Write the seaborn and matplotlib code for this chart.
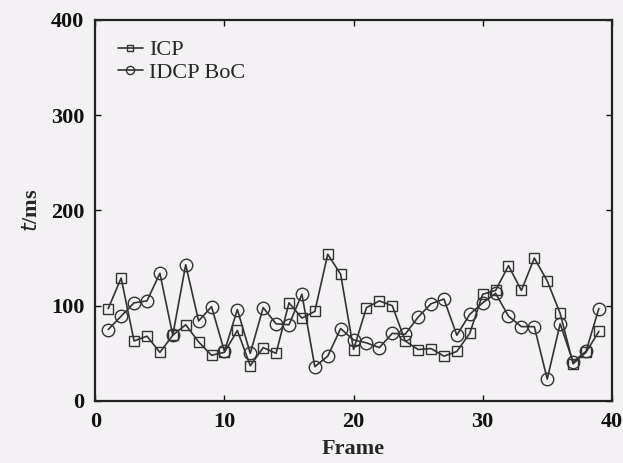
import matplotlib
matplotlib.use("Agg")
import matplotlib.pyplot as plt
import numpy as np
import pandas as pd
import seaborn as sns

# ---------------------------------------------------------------------------
# Data
# ---------------------------------------------------------------------------
frames = list(range(1, 40))
icp_ms = [97, 129, 63, 68, 51, 69, 80, 62, 48, 51, 74, 37, 56, 50, 103, 87, 94,
          154, 133, 54, 98, 105, 100, 63, 54, 55, 47, 52, 71, 112, 116, 142, 116,
          150, 126, 92, 39, 51, 73]
idcp_ms = [75, 89, 103, 105, 134, 69, 143, 84, 99, 52, 96, 50, 98, 81, 80, 112, 36,
           47, 76, 64, 61, 56, 71, 70, 88, 102, 107, 69, 91, 103, 113, 89, 78, 78,
           23, 81, 41, 52, 97]
x_ticks = [0, 10, 20, 30, 40]
y_ticks = [0, 100, 200, 300, 400]

df = pd.DataFrame({"Frame": frames, "ICP": icp_ms, "IDCP BoC": idcp_ms})

sns.set_theme(style="ticks")
plt.rcParams["font.family"] = ["Liberation Serif", "DejaVu Serif"]

BG = "#f3f1f3"
INK = "#333333"

fig = plt.figure(figsize=(6.23, 4.63), dpi=100, facecolor=BG)
ax = fig.add_axes([0.153, 0.134, 0.829, 0.823], facecolor=BG)

common = dict(color=INK, linewidth=1.2, markerfacecolor="none",
              markeredgecolor=INK, markeredgewidth=1.0)
sns.lineplot(data=df, x="Frame", y="ICP", marker="s", markersize=7.5,
             label="ICP", ax=ax, **common)
sns.lineplot(data=df, x="Frame", y="IDCP BoC", marker="o", markersize=9,
             label="IDCP BoC", ax=ax, **common)

ax.set_xlim(0, 40)
ax.set_ylim(0, 400)
ax.set_xticks(x_ticks)
ax.set_yticks(y_ticks)
ax.tick_params(direction="in", length=4, width=1, top=True, right=True,
               labelsize=16, pad=8, colors="#111111")
for lab in ax.get_xticklabels() + ax.get_yticklabels():
    lab.set_fontweight("bold")
for sp in ax.spines.values():
    sp.set_linewidth(1.6)
    sp.set_color("#222222")

ax.set_xlabel("Frame", fontsize=16, fontweight="bold", labelpad=5)
ax.set_ylabel(r"$\mathit{t}$/ms", fontsize=16, fontweight="bold", labelpad=6)

leg = ax.legend(loc="upper left", bbox_to_anchor=(0.027, 0.971), borderaxespad=0,
                frameon=False, fontsize=16, handlelength=1.1, handletextpad=0.3,
                labelspacing=0.1, markerscale=0.65)
for h in leg.legend_handles:
    h.set_markerfacecolor("none")

fig.savefig("out.png", dpi=100, facecolor=BG)
